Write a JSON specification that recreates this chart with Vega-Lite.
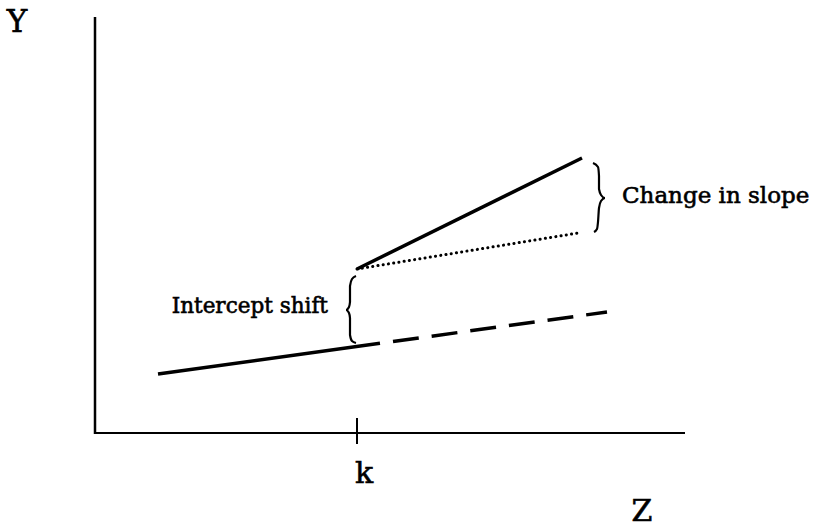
{
  "$schema": "https://vega.github.io/schema/vega-lite/v6.json",
  "width": 815,
  "height": 529,
  "autosize": {"type": "fit", "contains": "padding"},
  "padding": 0,
  "background": "white",
  "config": {"view": {"stroke": null}},
  "datasets": {
    "axes": [
      {"x": 95, "y": 17, "x2": 95, "y2": 434, "w": 2.5},
      {"x": 94, "y": 433, "x2": 685, "y2": 433, "w": 2},
      {"x": 357, "y": 418, "x2": 357, "y2": 444, "w": 2}
    ],
    "lines": [
      {"seg": "before", "x": 158, "y": 374},
      {"seg": "before", "x": 380, "y": 343.3},
      {"seg": "after_base", "x": 393, "y": 341.5},
      {"seg": "after_base", "x": 607, "y": 312},
      {"seg": "after_new", "x": 357, "y": 269},
      {"seg": "after_new", "x": 582, "y": 158},
      {"seg": "after_shift", "x": 357, "y": 269},
      {"seg": "after_shift", "x": 578, "y": 233}
    ],
    "braces": [
      {"b": "slope", "o": 1, "x": 593, "y": 163},
      {"b": "slope", "o": 2, "x": 598, "y": 167},
      {"b": "slope", "o": 3, "x": 599, "y": 176},
      {"b": "slope", "o": 4, "x": 599, "y": 189},
      {"b": "slope", "o": 5, "x": 601, "y": 195},
      {"b": "slope", "o": 6, "x": 605, "y": 198},
      {"b": "slope", "o": 7, "x": 601, "y": 201},
      {"b": "slope", "o": 8, "x": 599, "y": 208},
      {"b": "slope", "o": 9, "x": 598, "y": 222},
      {"b": "slope", "o": 10, "x": 597, "y": 229},
      {"b": "slope", "o": 11, "x": 594, "y": 232},
      {"b": "shift", "o": 1, "x": 356, "y": 276},
      {"b": "shift", "o": 2, "x": 352, "y": 279},
      {"b": "shift", "o": 3, "x": 350, "y": 286},
      {"b": "shift", "o": 4, "x": 350, "y": 302},
      {"b": "shift", "o": 5, "x": 349, "y": 307},
      {"b": "shift", "o": 6, "x": 346, "y": 310},
      {"b": "shift", "o": 7, "x": 349, "y": 313},
      {"b": "shift", "o": 8, "x": 350, "y": 318},
      {"b": "shift", "o": 9, "x": 350, "y": 335},
      {"b": "shift", "o": 10, "x": 352, "y": 341},
      {"b": "shift", "o": 11, "x": 356, "y": 343}
    ],
    "labelsCenter": [
      {"t": "Y", "x": 17, "y": 32, "s": 31},
      {"t": "k", "x": 364, "y": 483, "s": 30},
      {"t": "Z", "x": 642, "y": 521, "s": 30}
    ],
    "labelsLeft": [
      {"t": "Change in slope", "x": 622, "y": 203, "s": 23}
    ],
    "labelsRight": [
      {"t": "Intercept shift", "x": 328, "y": 313, "s": 21.5}
    ]
  },
  "layer": [
    {
      "data": {"name": "axes"},
      "mark": {"type": "rule", "color": "black", "strokeCap": "butt"},
      "encoding": {
        "x": {"field": "x", "type": "quantitative", "scale": {"domain": [0, 815], "nice": false, "zero": false}, "axis": null},
        "y": {"field": "y", "type": "quantitative", "scale": {"domain": [0, 529], "nice": false, "zero": false, "reverse": true}, "axis": null},
        "x2": {"field": "x2"},
        "y2": {"field": "y2"},
        "strokeWidth": {"field": "w", "type": "quantitative", "scale": null}
      }
    },
    {
      "data": {"name": "lines"},
      "transform": [{"filter": "datum.seg === 'before' || datum.seg === 'after_new'"}],
      "mark": {"type": "line", "color": "black", "strokeWidth": 3.5, "strokeCap": "butt"},
      "encoding": {
        "x": {"field": "x", "type": "quantitative"},
        "y": {"field": "y", "type": "quantitative"},
        "detail": {"field": "seg"}
      }
    },
    {
      "data": {"name": "lines"},
      "transform": [{"filter": "datum.seg === 'after_base'"}],
      "mark": {"type": "line", "color": "black", "strokeWidth": 3.5, "strokeCap": "butt", "strokeDash": [26, 13]},
      "encoding": {
        "x": {"field": "x", "type": "quantitative"},
        "y": {"field": "y", "type": "quantitative"}
      }
    },
    {
      "data": {"name": "lines"},
      "transform": [{"filter": "datum.seg === 'after_shift'"}],
      "mark": {"type": "line", "color": "black", "strokeWidth": 3, "strokeCap": "round", "strokeDash": [0.1, 5.2]},
      "encoding": {
        "x": {"field": "x", "type": "quantitative"},
        "y": {"field": "y", "type": "quantitative"}
      }
    },
    {
      "data": {"name": "braces"},
      "mark": {"type": "line", "color": "black", "strokeWidth": 2.2, "interpolate": "monotone"},
      "encoding": {
        "x": {"field": "x", "type": "quantitative"},
        "y": {"field": "y", "type": "quantitative"},
        "order": {"field": "o", "type": "quantitative"},
        "detail": {"field": "b"}
      }
    },
    {
      "data": {"name": "labelsCenter"},
      "mark": {"type": "text", "font": "DejaVu Serif", "align": "center", "baseline": "alphabetic", "color": "black", "stroke": "black", "strokeWidth": 0.6},
      "encoding": {
        "x": {"field": "x", "type": "quantitative"},
        "y": {"field": "y", "type": "quantitative"},
        "text": {"field": "t"},
        "size": {"field": "s", "type": "quantitative", "scale": null}
      }
    },
    {
      "data": {"name": "labelsLeft"},
      "mark": {"type": "text", "font": "DejaVu Serif", "align": "left", "baseline": "alphabetic", "color": "black", "stroke": "black", "strokeWidth": 0.6},
      "encoding": {
        "x": {"field": "x", "type": "quantitative"},
        "y": {"field": "y", "type": "quantitative"},
        "text": {"field": "t"},
        "size": {"field": "s", "type": "quantitative", "scale": null}
      }
    },
    {
      "data": {"name": "labelsRight"},
      "mark": {"type": "text", "font": "DejaVu Serif", "align": "right", "baseline": "alphabetic", "color": "black", "stroke": "black", "strokeWidth": 0.6},
      "encoding": {
        "x": {"field": "x", "type": "quantitative"},
        "y": {"field": "y", "type": "quantitative"},
        "text": {"field": "t"},
        "size": {"field": "s", "type": "quantitative", "scale": null}
      }
    }
  ]
}
